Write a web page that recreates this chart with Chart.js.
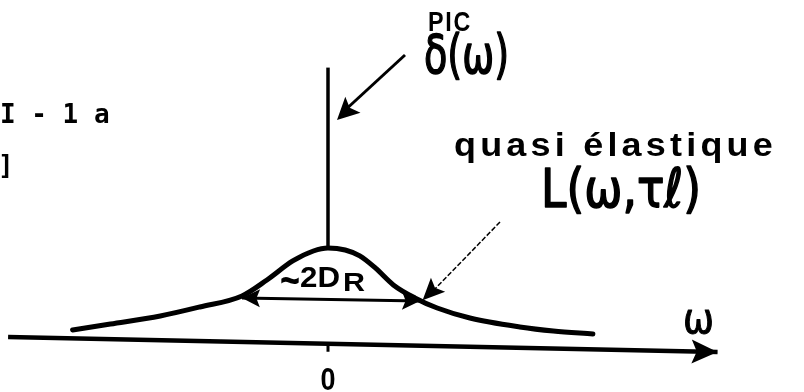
<!DOCTYPE html>
<html>
<head>
<meta charset="utf-8">
<script src="https://cdn.jsdelivr.net/npm/chart.js@4"></script>
<style>
  html, body { margin: 0; padding: 0; background: #fff; }
  canvas { display: block; }
</style>
</head>
<body>
<canvas id="c" width="804" height="392"></canvas>
<script>
// Quasi-elastic line L(ω, τℓ): ω in units of the half-width, intensity relative to its maximum
const omega     = [-2.97, -2.53, -1.95, -1.49, -1.00, -0.71, -0.41, -0.17, 0.00, 0.20, 0.37, 0.55, 0.76, 1.01, 1.27, 1.65, 2.23, 2.62, 3.08];
const intensity = [0.155, 0.216, 0.299, 0.392, 0.505, 0.670, 0.866, 0.969, 1.000, 0.979, 0.918, 0.794, 0.619, 0.485, 0.381, 0.278, 0.186, 0.144, 0.113];

// Elastic peak δ(ω) at ω = 0
const peakOmega     = [0, 0];
const peakIntensity = [1.0, 2.86];

// ω axis line (left end, arrow tip)
const axisOmega     = [-3.72, 4.53];
const axisIntensity = [0.082, -0.072];

// Full width ~2D_R, measured at half maximum
const widthOmega     = [-1.00, 1.07];
const widthIntensity = [0.485, 0.454];

const tickValues = [0];
const tickLabels = ['0'];

const pts = (xs, ys) => xs.map((x, i) => ({ x, y: ys[i] }));

function arrowHead(ctx, fx, fy, tx, ty, len, half) {
  const a = Math.atan2(ty - fy, tx - fx);
  ctx.save();
  ctx.translate(tx, ty);
  ctx.rotate(a);
  ctx.beginPath();
  ctx.moveTo(0, 0);
  ctx.lineTo(-len, -half);
  ctx.lineTo(-len * 0.8, 0);
  ctx.lineTo(-len, half);
  ctx.closePath();
  ctx.fill();
  ctx.restore();
}

// text squeezed to a given width; an optional outline thickens the strokes
function fitText(ctx, txt, x, y, font, width, spacing, thicken) {
  ctx.save();
  ctx.font = font;
  ctx.letterSpacing = spacing || '0px';
  const w = ctx.measureText(txt).width;
  ctx.translate(x, y);
  if (width) ctx.scale(width / w, 1);
  ctx.fillText(txt, 0, 0);
  if (thicken) {
    ctx.lineWidth = thicken;
    ctx.lineJoin = 'round';
    ctx.strokeText(txt, 0, 0);
  }
  ctx.restore();
}

const annotations = {
  id: 'annotations',
  afterDatasetsDraw(chart) {
    const { ctx, scales: { x: xs, y: ys } } = chart;
    const px = v => xs.getPixelForValue(v);
    const py = v => ys.getPixelForValue(v);
    ctx.save();
    ctx.fillStyle = '#000';
    ctx.strokeStyle = '#000';
    ctx.textBaseline = 'alphabetic';

    // axis arrowhead
    const ax0 = px(axisOmega[0]), ay0 = py(axisIntensity[0]);
    const ax1 = px(axisOmega[1]), ay1 = py(axisIntensity[1]);
    arrowHead(ctx, ax0, ay0, ax1, ay1, 26, 12);

    // ticks and tick labels
    tickValues.forEach((v, i) => {
      const tx = px(v);
      const t = (v - axisOmega[0]) / (axisOmega[1] - axisOmega[0]);
      const ty = ay0 + (ay1 - ay0) * t;
      ctx.lineWidth = 3;
      ctx.beginPath();
      ctx.moveTo(tx, ty);
      ctx.lineTo(tx, ty + 8);
      ctx.stroke();
      fitText(ctx, tickLabels[i], tx - 7.5, 390, 'bold 31px "Liberation Sans"', 15);
    });

    // width marker arrowheads
    const wx0 = px(widthOmega[0]), wy0 = py(widthIntensity[0]);
    const wx1 = px(widthOmega[1]), wy1 = py(widthIntensity[1]);
    arrowHead(ctx, wx1, wy1, wx0, wy0, 18, 9);
    arrowHead(ctx, wx0, wy0, wx1, wy1, 18, 9);

    // arrow pointing to the elastic peak
    const sx = px(peakOmega[0]);
    ctx.lineWidth = 3;
    ctx.beginPath();
    ctx.moveTo(405, 55);
    ctx.lineTo(sx + 14, 113);
    ctx.stroke();
    arrowHead(ctx, 405, 55, sx + 9, 120, 22, 11);

    // dashed arrow pointing to the quasi-elastic line
    const cx = px(1.1), cy = py(0.46);
    ctx.lineWidth = 1.5;
    ctx.setLineDash([5, 2]);
    ctx.beginPath();
    ctx.moveTo(500, 222);
    ctx.lineTo(cx + 12, cy - 11);
    ctx.stroke();
    ctx.setLineDash([]);
    arrowHead(ctx, 500, 222, cx, cy, 22, 10);

    // labels
    fitText(ctx, 'PIC', 428, 31, 'bold 27px "Liberation Sans"', 44, '2px');
    fitText(ctx, 'δ(ω)', 424, 73, '54px "DejaVu Sans"', 85, null, 1.6);
    fitText(ctx, 'I - 1 a', 0, 123, 'bold 26px "DejaVu Sans Mono"');
    fitText(ctx, ']', -2, 174, 'bold 26px "DejaVu Sans Mono"');
    fitText(ctx, 'quasi élastique', 454, 156, 'bold 34px "Liberation Sans"', 323, '4px');
    fitText(ctx, 'L(ω,τℓ)', 541, 207, '54px "DejaVu Sans"', 160, null, 1.6);
    fitText(ctx, '~', 280, 296, 'bold 46px "Liberation Sans"', 20);
    fitText(ctx, '2D', 300, 287, 'bold 30px "Liberation Sans"', 40);
    fitText(ctx, 'R', 343, 291, 'bold 26px "Liberation Sans"', 22);
    fitText(ctx, 'ω', 683, 333, '42px "DejaVu Sans"', 31, null, 1);
    ctx.restore();
  }
};

new Chart(document.getElementById('c'), {
  type: 'line',
  data: {
    datasets: [
      { data: pts(omega, intensity), borderColor: '#000', borderWidth: 5, tension: 0.4,
        cubicInterpolationMode: 'monotone', pointRadius: 0, borderCapStyle: 'round', fill: false },
      { data: pts(peakOmega, peakIntensity), borderColor: '#000', borderWidth: 3.5, pointRadius: 0 },
      { data: pts(axisOmega, axisIntensity), borderColor: '#000', borderWidth: 4.5, pointRadius: 0 },
      { data: pts(widthOmega, widthIntensity), borderColor: '#000', borderWidth: 3, pointRadius: 0 }
    ]
  },
  options: {
    responsive: false,
    animation: false,
    layout: { padding: 0 },
    plugins: { legend: { display: false }, tooltip: { enabled: false } },
    scales: {
      x: { type: 'linear', min: -3.814, max: 5.535, display: false },
      y: { type: 'linear', min: -0.485, max: 3.557, display: false }
    }
  },
  plugins: [annotations]
});
</script>
</body>
</html>
